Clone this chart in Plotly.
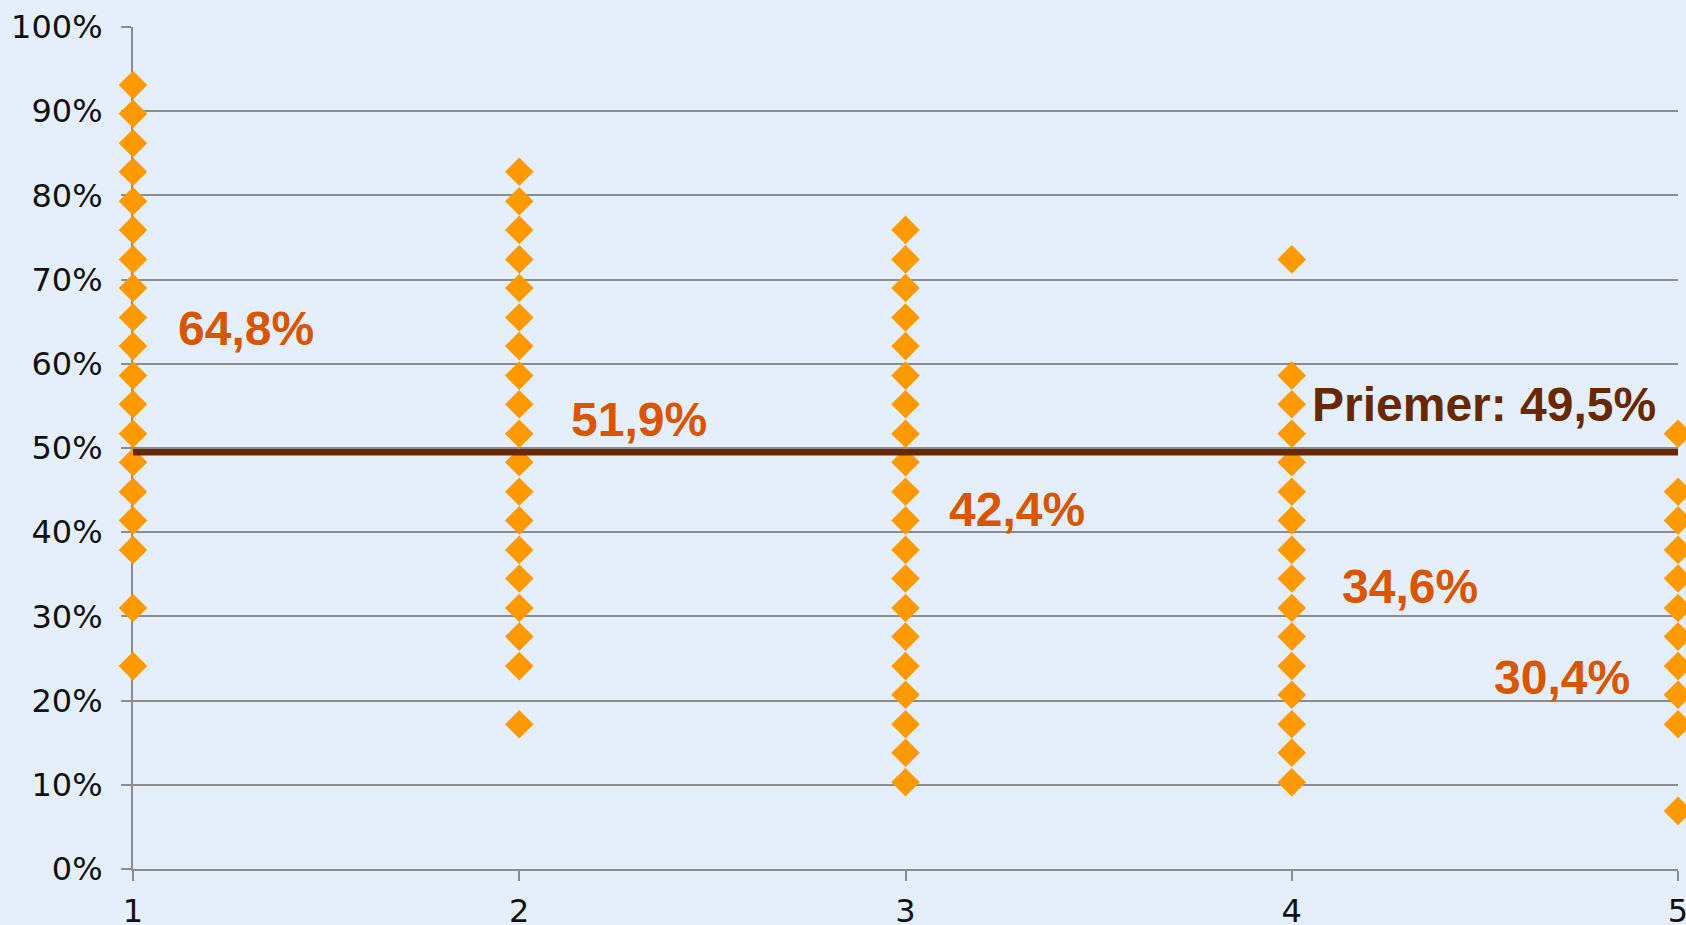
import plotly.graph_objects as go

# Individual scores per group (fraction of points achieved)
group_1 = [0.931, 0.897, 0.862, 0.828, 0.793, 0.759, 0.724, 0.690, 0.655, 0.621,
           0.586, 0.552, 0.517, 0.483, 0.448, 0.414, 0.379, 0.310, 0.241]
group_2 = [0.828, 0.793, 0.759, 0.724, 0.690, 0.655, 0.621, 0.586, 0.552, 0.517,
           0.483, 0.448, 0.414, 0.379, 0.345, 0.310, 0.276, 0.241, 0.172]
group_3 = [0.759, 0.724, 0.690, 0.655, 0.621, 0.586, 0.552, 0.517, 0.483, 0.448,
           0.414, 0.379, 0.345, 0.310, 0.276, 0.241, 0.207, 0.172, 0.138, 0.103]
group_4 = [0.724, 0.586, 0.552, 0.517, 0.483, 0.448, 0.414, 0.379, 0.345, 0.310,
           0.276, 0.241, 0.207, 0.172, 0.138, 0.103]
group_5 = [0.517, 0.448, 0.414, 0.379, 0.345, 0.310, 0.276, 0.241, 0.207, 0.172, 0.069]
groups = [group_1, group_2, group_3, group_4, group_5]

# Group averages as printed, and where their labels sit (x, y)
group_avg_labels = ["64,8%", "51,9%", "42,4%", "34,6%", "30,4%"]
group_avg_pos = [(1.292, 0.642), (2.311, 0.534), (3.288, 0.427), (4.307, 0.336), (4.699, 0.227)]

# Overall average
MEAN = 0.495
mean_label = "Priemer: 49,5%"
mean_label_pos = (4.499, 0.552)

BG = "#E5EFFC"
ORANGE = "#FF9900"
LABEL_COLOR = "#D95500"
MEAN_COLOR = "#682900"
GRID = "#8C8C8C"

fig = go.Figure()

xs, ys = [], []
for i, g in enumerate(groups, start=1):
    xs += [i] * len(g)
    ys += g

fig.add_trace(go.Scatter(
    x=xs, y=ys, mode="markers",
    marker=dict(symbol="diamond", size=22, color=ORANGE, line=dict(width=0)),
    cliponaxis=False, hoverinfo="skip", showlegend=False,
))

fig.add_trace(go.Scatter(
    x=[0.985, 5], y=[MEAN, MEAN], mode="lines",
    line=dict(color=MEAN_COLOR, width=6.5),
    cliponaxis=False, hoverinfo="skip", showlegend=False,
))

label_font = dict(family="Liberation Sans, Arial, sans-serif", size=48, weight="bold")

annotations = []
for text, (ax, ay) in zip(group_avg_labels, group_avg_pos):
    annotations.append(dict(
        x=ax, y=ay, xref="x", yref="y", text=text, showarrow=False,
        xanchor="center", yanchor="middle",
        font=dict(label_font, color=LABEL_COLOR),
    ))
annotations.append(dict(
    x=mean_label_pos[0], y=mean_label_pos[1], xref="x", yref="y", text=mean_label,
    showarrow=False, xanchor="center", yanchor="middle",
    font=dict(label_font, color=MEAN_COLOR),
))

tick_font = dict(family="DejaVu Sans, Verdana, sans-serif", size=32, color="#111111")

fig.update_layout(
    width=1686, height=925,
    margin=dict(l=133, r=8, t=27, b=56),
    paper_bgcolor=BG, plot_bgcolor=BG,
    annotations=annotations,
    xaxis=dict(
        range=[1, 5], tickmode="array", tickvals=[1, 2, 3, 4, 5],
        ticktext=["1", "2", "3", "4", "5"],
        showgrid=False, zeroline=False, automargin=False,
        showline=True, linecolor=GRID, linewidth=2,
        ticks="outside", ticklen=10, tickwidth=2, tickcolor=GRID,
        tickfont=tick_font, ticklabelstandoff=3, ticklabeloverflow="allow",
        layer="below traces", fixedrange=True,
    ),
    yaxis=dict(
        range=[0, 1], tickmode="linear", tick0=0, dtick=0.1, tickformat=".0%",
        showgrid=True, gridcolor=GRID, gridwidth=1.5, zeroline=False, automargin=False,
        showline=True, linecolor=GRID, linewidth=2,
        ticks="outside", ticklen=10, tickwidth=1.5, tickcolor=GRID,
        tickfont=tick_font, ticklabelstandoff=12,
        layer="below traces", fixedrange=True,
    ),
)

fig.write_html("out.html")
